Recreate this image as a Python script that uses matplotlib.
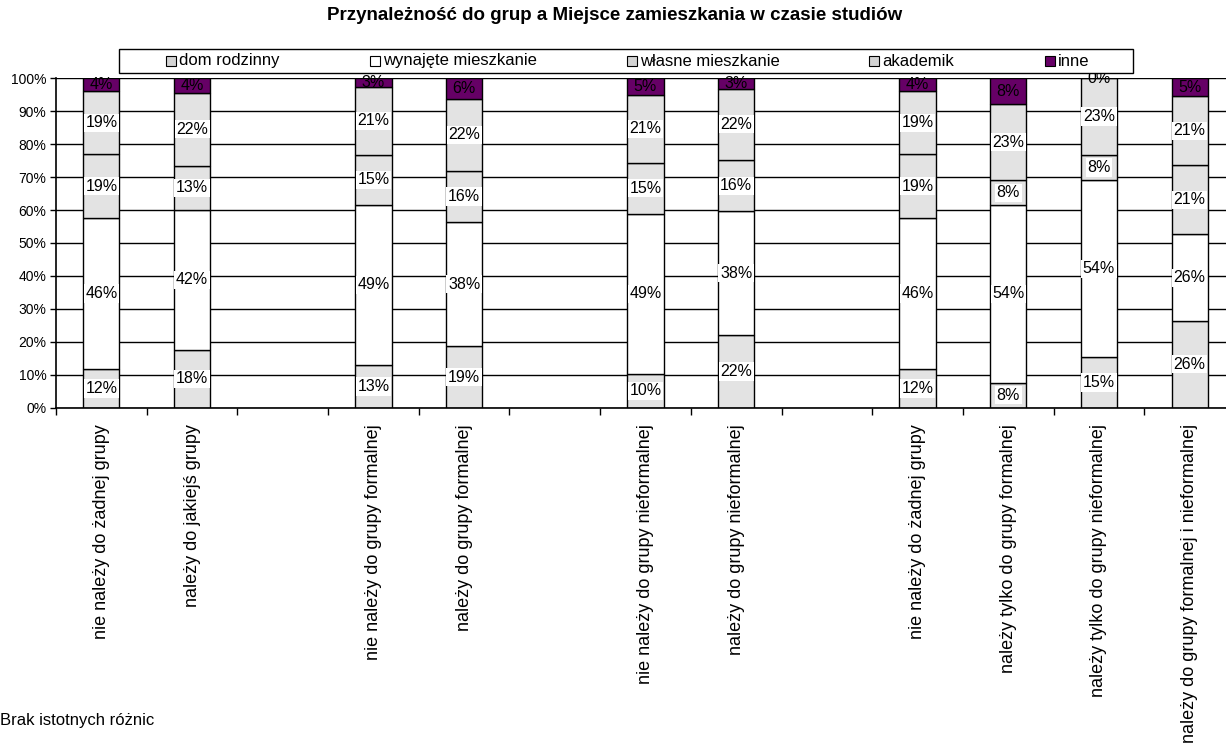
import matplotlib
matplotlib.use("Agg")
import matplotlib.pyplot as plt
from matplotlib.patches import Rectangle
import numpy as np

plt.rcParams['font.family'] = ['Liberation Sans', 'DejaVu Sans']

title = "Przynależność do grup a Miejsce zamieszkania w czasie studiów"
footnote = "Brak istotnych różnic"

categories = [
    "nie należy do żadnej grupy",
    "należy do jakiejś grupy",
    "nie należy do grupy formalnej",
    "należy do grupy formalnej",
    "nie należy do grupy nieformalnej",
    "należy do grupy nieformalnej",
    "nie należy do żadnej grupy",
    "należy tylko do grupy formalnej",
    "należy tylko do grupy nieformalnej",
    "należy do grupy formalnej i nieformalnej",
]
# slot index of each bar (empty slots separate the groups)
slots = [0, 1, 3, 4, 6, 7, 9, 10, 11, 12]
n_slots = 13

series_names = ["dom rodzinny", "wynajęte mieszkanie", "własne mieszkanie", "akademik", "inne"]
dom_rodzinny = [11.6, 17.6, 12.9, 18.6, 10.3, 22.0, 11.6, 7.6, 15.3, 26.3]
wynajete     = [46.1, 42.4, 48.7, 37.7, 48.6, 37.6, 46.1, 53.9, 53.7, 26.3]
wlasne       = [19.2, 13.4, 15.2, 15.6, 15.4, 15.6, 19.2, 7.6, 7.8, 21.0]
akademik     = [19.1, 22.2, 20.6, 21.9, 20.7, 21.7, 19.1, 23.1, 23.2, 21.0]
inne         = [4.0, 4.4, 2.6, 6.2, 5.0, 3.1, 4.0, 7.8, 0.0, 5.4]
series = [dom_rodzinny, wynajete, wlasne, akademik, inne]
colors = ["#E3E3E3", "#FFFFFF", "#E3E3E3", "#E3E3E3", "#660066"]

W, H = 1226, 744
fig = plt.figure(figsize=(W / 100, H / 100), dpi=100)

ax_l, ax_r, ax_t, ax_b = 56, 1235, 78.3, 407.7
ax = fig.add_axes([ax_l / W, 1 - ax_b / H, (ax_r - ax_l) / W, (ax_b - ax_t) / H])
ax.set_xlim(-0.5, n_slots - 0.5)
ax.set_ylim(0, 100)
ax.set_axisbelow(True)

x = np.array(slots, dtype=float)
bottom = np.zeros(len(categories))
for k, (vals, col) in enumerate(zip(series, colors)):
    vals = np.array(vals)
    ax.bar(x, vals, bottom=bottom, width=0.4, color=col, edgecolor="black",
           linewidth=1.0, zorder=2)
    for xi, b, v in zip(x, bottom, vals):
        kw = dict(ha="center", va="center", fontsize=11.5, zorder=4, clip_on=False)
        if k < 4:
            kw["bbox"] = dict(facecolor="white", edgecolor="none", pad=1.2)
        ax.text(xi, b + v / 2, f"{v:.0f}%", **kw)
    bottom += vals

# grid
ax.yaxis.grid(True, color="black", linewidth=1.0)
ax.set_yticks(np.arange(0, 101, 10))
ax.set_yticklabels([f"{v}%" for v in range(0, 101, 10)], fontsize=10)
ax.tick_params(axis="y", length=4, width=1, color="black", pad=3)

ax.set_xticks(np.arange(-0.5, n_slots, 1.0))
ax.set_xticklabels([])
ax.tick_params(axis="x", which="major", length=5, width=1, color="black", direction="out")
ax.set_xticks(x, minor=True)
ax.set_xticklabels(categories, minor=True, rotation=90, va="top", ha="center", fontsize=13)
ax.tick_params(axis="x", which="minor", length=0, pad=12)

for s in ["top", "right"]:
    ax.spines[s].set_visible(False)
for s in ["left", "bottom"]:
    ax.spines[s].set_color("black")
    ax.spines[s].set_linewidth(1.2)

# legend box (manual, Excel-style)
def fx(px):
    return px / W
def fy(py):
    return 1 - py / H

fig.patches.append(Rectangle((fx(119), fy(73)), fx(1133) - fx(119), fy(49) - fy(73),
                             transform=fig.transFigure, facecolor="white",
                             edgecolor="black", linewidth=1.0, zorder=10))
leg_x = [166, 370, 627, 869, 1045]
for name, col, lx in zip(series_names, colors, leg_x):
    fig.patches.append(Rectangle((fx(lx), fy(66)), fx(10), 10 / H,
                                 transform=fig.transFigure,
                                 facecolor=col if col != "#E3E3E3" else "#D4D4D4",
                                 edgecolor="black", linewidth=0.8, zorder=11))
    fig.text(fx(lx + 13), fy(61), name, fontsize=12, va="center", ha="left", zorder=11)

fig.text(fx(615), fy(15), title, fontsize=13.5, fontweight="bold", ha="center", va="center")
fig.text(0, fy(720), footnote, fontsize=12, ha="left", va="center")

fig.savefig("out.png", dpi=100, facecolor="white")
